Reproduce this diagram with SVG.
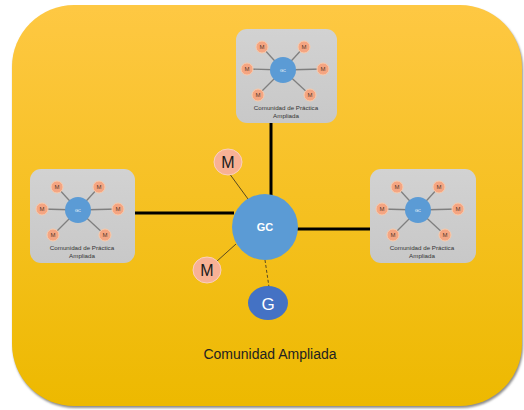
<svg xmlns="http://www.w3.org/2000/svg" width="524" height="410" viewBox="0 0 524 410">
  <defs>
    <linearGradient id="bg" x1="0" y1="0" x2="0" y2="1">
      <stop offset="0" stop-color="#FEC843"/>
      <stop offset="1" stop-color="#EDB900"/>
    </linearGradient>
    <linearGradient id="card" x1="0" y1="0" x2="0" y2="1">
      <stop offset="0" stop-color="#D2D2D2"/>
      <stop offset="1" stop-color="#C8C8C8"/>
    </linearGradient>
    <filter id="soft" x="-10%" y="-10%" width="120%" height="120%">
      <feGaussianBlur stdDeviation="1.2"/>
    </filter>
  </defs>
  <style>
    .card { fill: url(#card); }
    .spoke { stroke: #7F7F7F; stroke-width: 1.3; }
    .hub { fill: #5B9BD5; }
    .mini { fill: #F4A582; stroke: #F8CBAD; stroke-width: 1; }
    .mtxt { font-family: "Liberation Sans", Arial, sans-serif; font-size: 6px; fill: #5A3A2A; text-anchor: middle; }
    .htxt { font-family: "Liberation Sans", Arial, sans-serif; font-size: 4px; fill: #FFFFFF; text-anchor: middle; }
    .ctxt { font-family: "Liberation Sans", Arial, sans-serif; font-size: 6.2px; fill: #333333; text-anchor: middle; }
    .link { stroke: #000000; stroke-width: 3; fill: none; }
    .thin { stroke: #5A4A20; stroke-width: 1; fill: none; }
    .member { fill: #F8B195; stroke: #FAD0BE; stroke-width: 1; }
    .big { font-family: "Liberation Sans", Arial, sans-serif; text-anchor: middle; }
  </style>

  <!-- background panel -->
  <rect x="13" y="7" width="510" height="401" rx="62" fill="#8C8C8C" filter="url(#soft)"/>
  <rect x="12" y="5" width="510" height="401" rx="62" fill="url(#bg)"/>

  <!-- connectors -->
  <g id="connectors">
    <line class="link" x1="271" y1="123" x2="271" y2="197"/>
    <line class="link" x1="135" y1="213" x2="234" y2="213"/>
    <line class="link" x1="296" y1="229" x2="370" y2="229"/>
    <line class="thin" x1="229" y1="173" x2="248" y2="199"/>
    <line class="thin" x1="216" y1="262" x2="236" y2="244"/>
    <line class="thin" x1="265" y1="260" x2="269" y2="287" stroke-dasharray="3,2"/>
  </g>

  <!-- top community -->
  <g id="community-top" transform="translate(236,29)">
    <rect class="card" x="0" y="0" width="101" height="94" rx="11"/>
    <line class="spoke" x1="47" y1="41" x2="26" y2="18"/>
    <line class="spoke" x1="47" y1="41" x2="68" y2="18"/>
    <line class="spoke" x1="47" y1="41" x2="11" y2="40"/>
    <line class="spoke" x1="47" y1="41" x2="87" y2="40"/>
    <line class="spoke" x1="47" y1="41" x2="22" y2="66"/>
    <line class="spoke" x1="47" y1="41" x2="74" y2="66"/>
    <circle class="hub" cx="47" cy="41" r="13"/>
    <text class="htxt" x="47" y="42.5">GC</text>
    <circle class="mini" cx="26" cy="18" r="6"/><text class="mtxt" x="26" y="20">M</text>
    <circle class="mini" cx="68" cy="18" r="6"/><text class="mtxt" x="68" y="20">M</text>
    <circle class="mini" cx="11" cy="40" r="6"/><text class="mtxt" x="11" y="42">M</text>
    <circle class="mini" cx="87" cy="40" r="6"/><text class="mtxt" x="87" y="42">M</text>
    <circle class="mini" cx="22" cy="66" r="6"/><text class="mtxt" x="22" y="68">M</text>
    <circle class="mini" cx="74" cy="66" r="6"/><text class="mtxt" x="74" y="68">M</text>
    <text class="ctxt" x="50" y="81">Comunidad de Práctica</text>
    <text class="ctxt" x="50" y="89">Ampliada</text>
  </g>

  <!-- left community -->
  <g id="community-left" transform="translate(30,169)">
    <rect class="card" x="0" y="0" width="105" height="94" rx="11"/>
    <line class="spoke" x1="48" y1="41" x2="27" y2="18"/>
    <line class="spoke" x1="48" y1="41" x2="69" y2="18"/>
    <line class="spoke" x1="48" y1="41" x2="12" y2="40"/>
    <line class="spoke" x1="48" y1="41" x2="88" y2="40"/>
    <line class="spoke" x1="48" y1="41" x2="23" y2="66"/>
    <line class="spoke" x1="48" y1="41" x2="75" y2="66"/>
    <circle class="hub" cx="48" cy="41" r="13"/>
    <text class="htxt" x="48" y="42.5">GC</text>
    <circle class="mini" cx="27" cy="18" r="6"/><text class="mtxt" x="27" y="20">M</text>
    <circle class="mini" cx="69" cy="18" r="6"/><text class="mtxt" x="69" y="20">M</text>
    <circle class="mini" cx="12" cy="40" r="6"/><text class="mtxt" x="12" y="42">M</text>
    <circle class="mini" cx="88" cy="40" r="6"/><text class="mtxt" x="88" y="42">M</text>
    <circle class="mini" cx="23" cy="66" r="6"/><text class="mtxt" x="23" y="68">M</text>
    <circle class="mini" cx="75" cy="66" r="6"/><text class="mtxt" x="75" y="68">M</text>
    <text class="ctxt" x="52" y="81">Comunidad de Práctica</text>
    <text class="ctxt" x="52" y="89">Ampliada</text>
  </g>

  <!-- right community -->
  <g id="community-right" transform="translate(370,169)">
    <rect class="card" x="0" y="0" width="106" height="94" rx="11"/>
    <line class="spoke" x1="48" y1="41" x2="27" y2="18"/>
    <line class="spoke" x1="48" y1="41" x2="69" y2="18"/>
    <line class="spoke" x1="48" y1="41" x2="12" y2="40"/>
    <line class="spoke" x1="48" y1="41" x2="88" y2="40"/>
    <line class="spoke" x1="48" y1="41" x2="23" y2="66"/>
    <line class="spoke" x1="48" y1="41" x2="75" y2="66"/>
    <circle class="hub" cx="48" cy="41" r="13"/>
    <text class="htxt" x="48" y="42.5">GC</text>
    <circle class="mini" cx="27" cy="18" r="6"/><text class="mtxt" x="27" y="20">M</text>
    <circle class="mini" cx="69" cy="18" r="6"/><text class="mtxt" x="69" y="20">M</text>
    <circle class="mini" cx="12" cy="40" r="6"/><text class="mtxt" x="12" y="42">M</text>
    <circle class="mini" cx="88" cy="40" r="6"/><text class="mtxt" x="88" y="42">M</text>
    <circle class="mini" cx="23" cy="66" r="6"/><text class="mtxt" x="23" y="68">M</text>
    <circle class="mini" cx="75" cy="66" r="6"/><text class="mtxt" x="75" y="68">M</text>
    <text class="ctxt" x="52" y="81">Comunidad de Práctica</text>
    <text class="ctxt" x="52" y="89">Ampliada</text>
  </g>

  <!-- central coordinator -->
  <g id="gc">
    <circle cx="265" cy="227" r="33" fill="#5B9BD5"/>
    <text class="big" x="265" y="231" font-size="11" font-weight="bold" fill="#FFFFFF">GC</text>
  </g>

  <!-- members attached to the centre -->
  <g id="member-top">
    <ellipse class="member" cx="228" cy="162" rx="14" ry="13"/>
    <text class="big" x="228" y="168" font-size="16" fill="#1A1A1A">M</text>
  </g>
  <g id="member-bottom">
    <ellipse class="member" cx="207" cy="270" rx="14" ry="13"/>
    <text class="big" x="207" y="276" font-size="16" fill="#1A1A1A">M</text>
  </g>

  <!-- G node -->
  <g id="g">
    <ellipse cx="268" cy="303" rx="20" ry="17" fill="#4472C4"/>
    <text class="big" x="268" y="309.5" font-size="17" fill="#FFFFFF">G</text>
  </g>

  <!-- panel title -->
  <g id="title">
    <text class="big" x="270" y="359" font-size="14" fill="#222222">Comunidad Ampliada</text>
  </g>
</svg>
